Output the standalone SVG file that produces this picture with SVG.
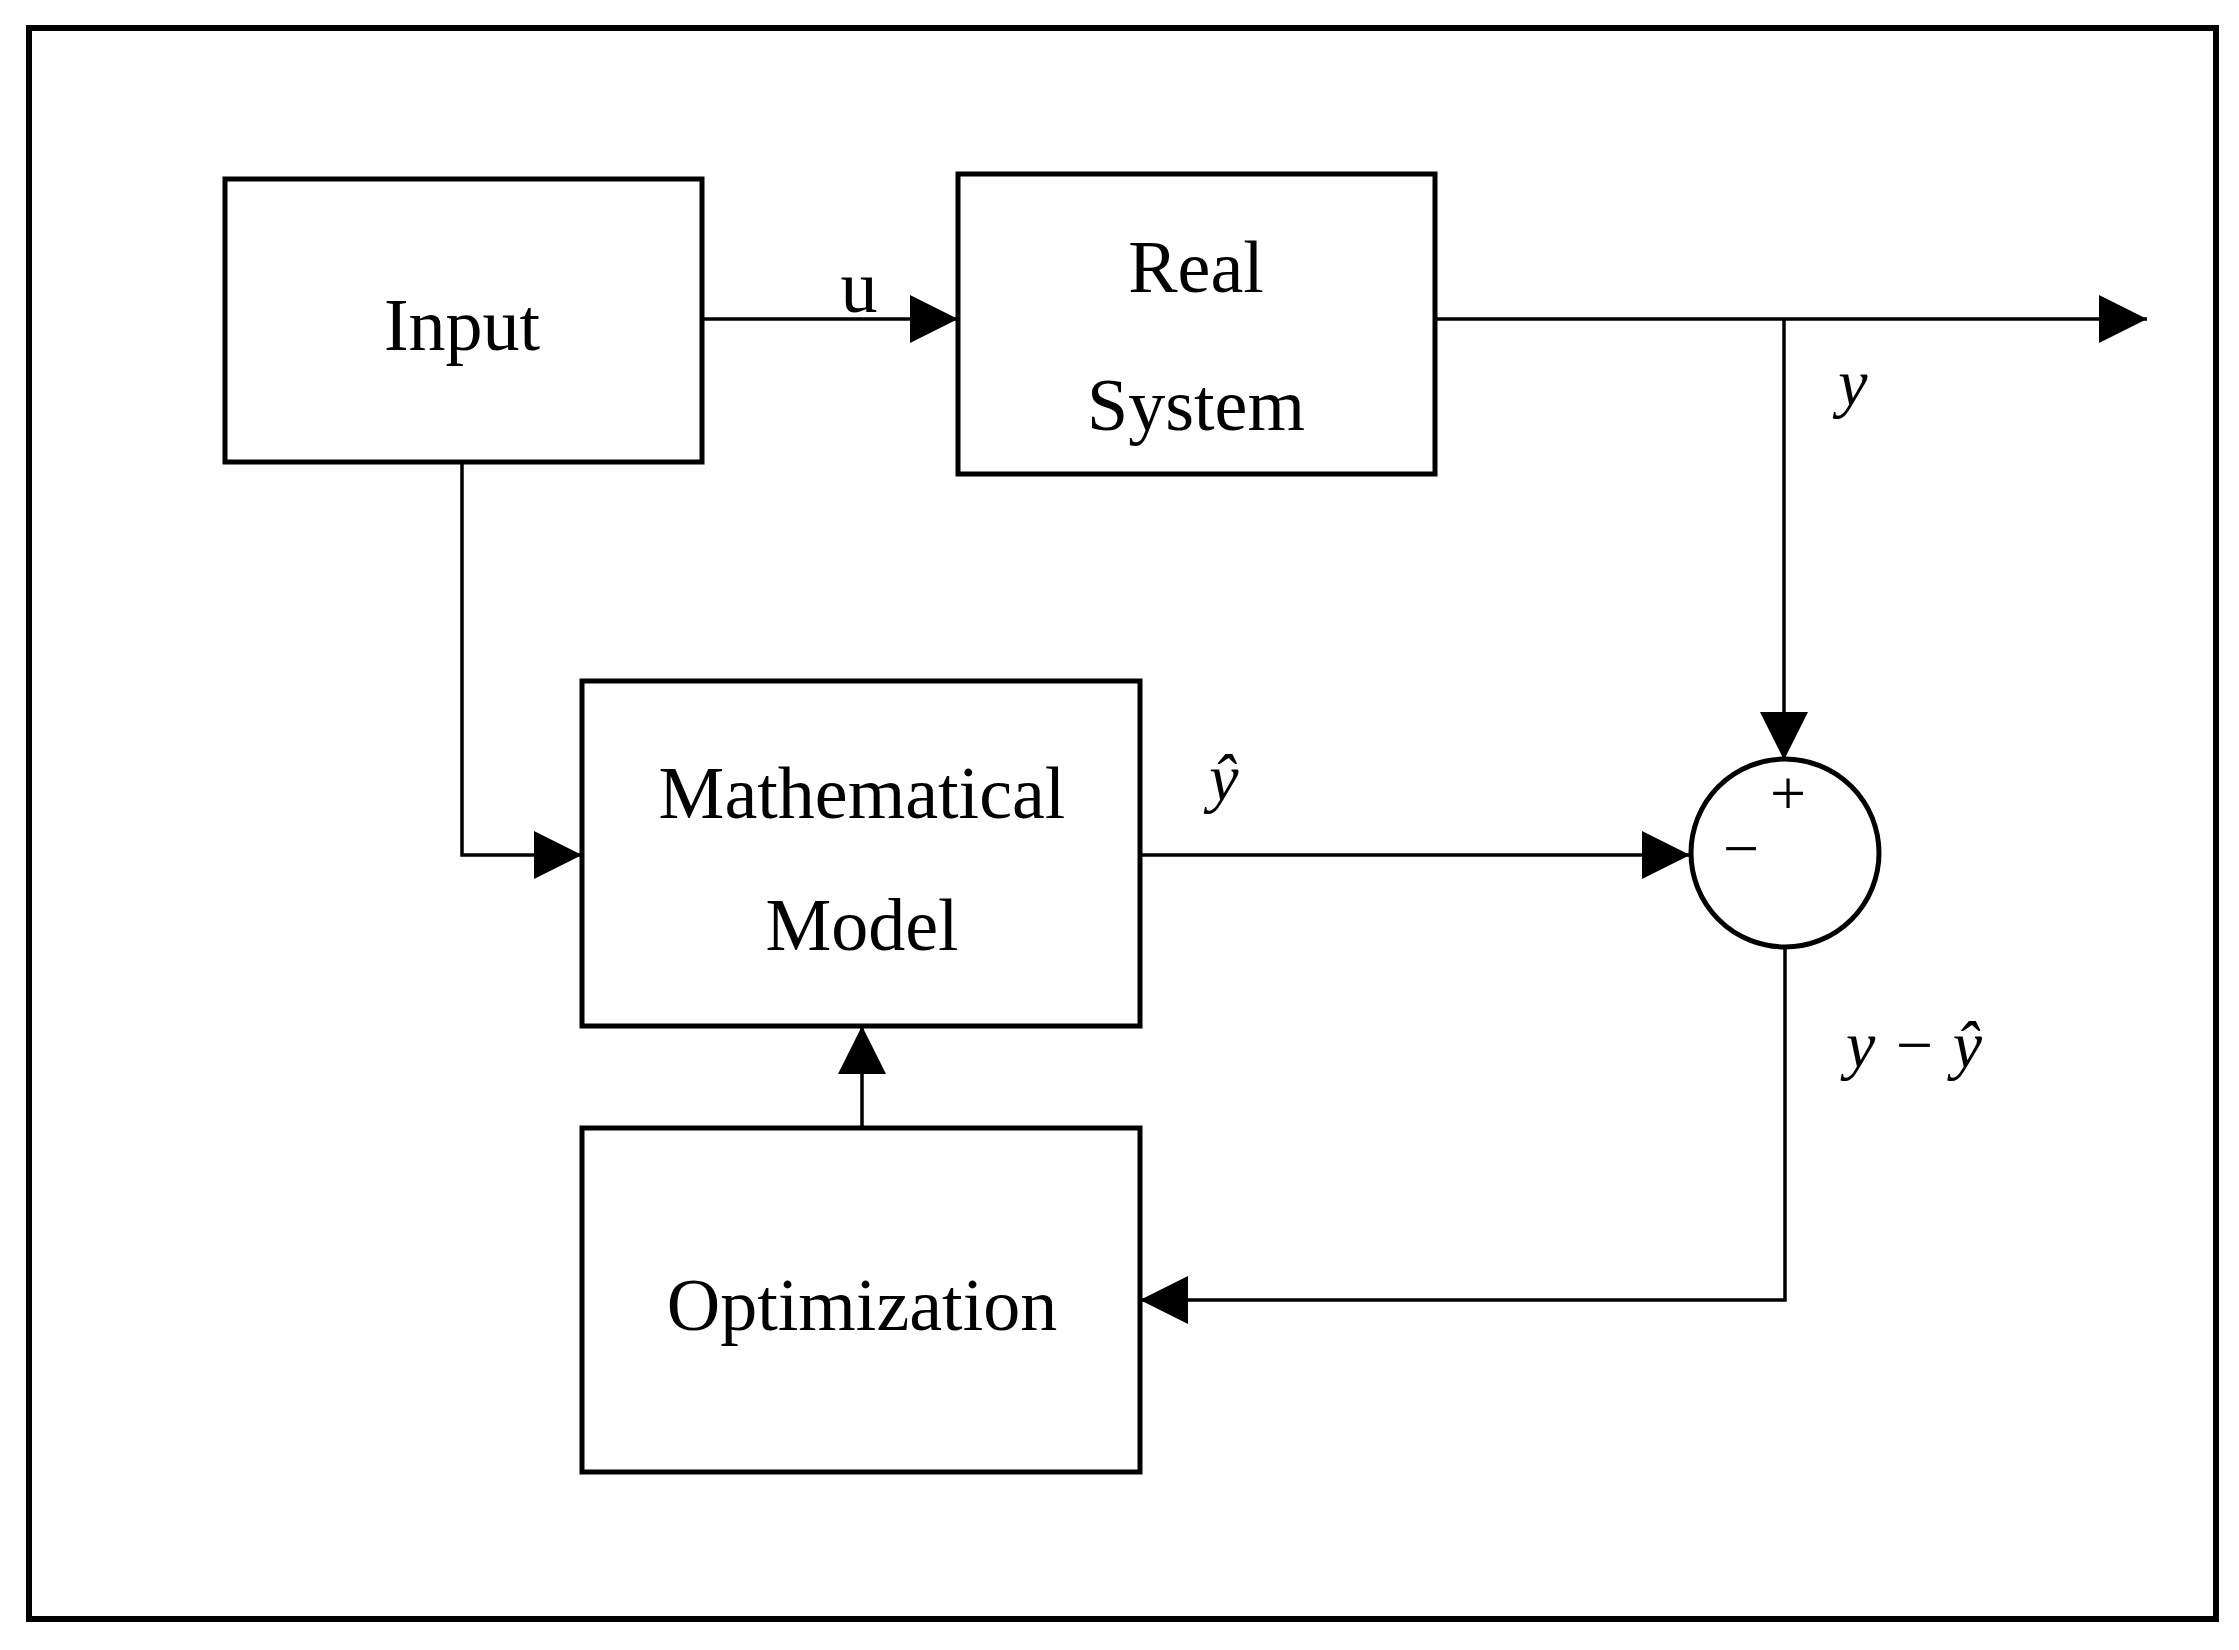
<svg xmlns="http://www.w3.org/2000/svg" width="2239" height="1650" viewBox="0 0 2239 1650">
<defs>
<style>
.box{fill:#fff;stroke:#000;stroke-width:5}
.ln{fill:none;stroke:#000;stroke-width:3.5}
.t{font-family:"Liberation Serif",serif;font-size:74px;text-anchor:middle;fill:#000}
.m{font-family:"Liberation Serif",serif;font-style:italic;font-size:66px;text-anchor:middle;fill:#000}
</style>
<marker id="ah" viewBox="0 0 10 10" refX="10" refY="5" markerWidth="48" markerHeight="48" markerUnits="userSpaceOnUse" orient="auto"><path d="M0,0L10,5L0,10Z" fill="#000"/></marker>
</defs>
<rect x="29" y="28" width="2187" height="1591" fill="#fff" stroke="#000" stroke-width="6"/>
<g id="connectors">
<path class="ln" d="M690,319H958" marker-end="url(#ah)"/>
<path class="ln" d="M1435,319H2147" marker-end="url(#ah)"/>
<path class="ln" d="M1784,319V760" marker-end="url(#ah)"/>
<path class="ln" d="M462,462V855H582" marker-end="url(#ah)"/>
<path class="ln" d="M1140,855H1690" marker-end="url(#ah)"/>
<path class="ln" d="M1785,947V1300H1140" marker-end="url(#ah)"/>
<path class="ln" d="M862,1128V1026" marker-end="url(#ah)"/>
<text class="t" x="859" y="312">u</text>
<text class="m" x="1853" y="405">y</text>
<text class="m" x="1224" y="800">ŷ</text>
<text class="m" x="1914" y="1067">y − ŷ</text>
</g>
<g id="input"><rect class="box" x="225" y="179" width="477" height="283"/><text class="t" x="462" y="350">Input</text></g>
<g id="real"><rect class="box" x="958" y="174" width="477" height="300"/><text class="t" x="1196" y="292">Real</text><text class="t" x="1196" y="430">System</text></g>
<g id="model"><rect class="box" x="582" y="681" width="558" height="345"/><text class="t" x="862" y="818">Mathematical</text><text class="t" x="862" y="950">Model</text></g>
<g id="opt"><rect class="box" x="582" y="1128" width="558" height="344"/><text class="t" x="862" y="1330">Optimization</text></g>
<g id="sum"><ellipse cx="1785" cy="853" rx="94" ry="94" fill="#fff" stroke="#000" stroke-width="5"/><text class="t" x="1788" y="815" style="font-size:64px">+</text><text class="t" x="1741" y="870" style="font-size:64px">−</text></g>
</svg>
